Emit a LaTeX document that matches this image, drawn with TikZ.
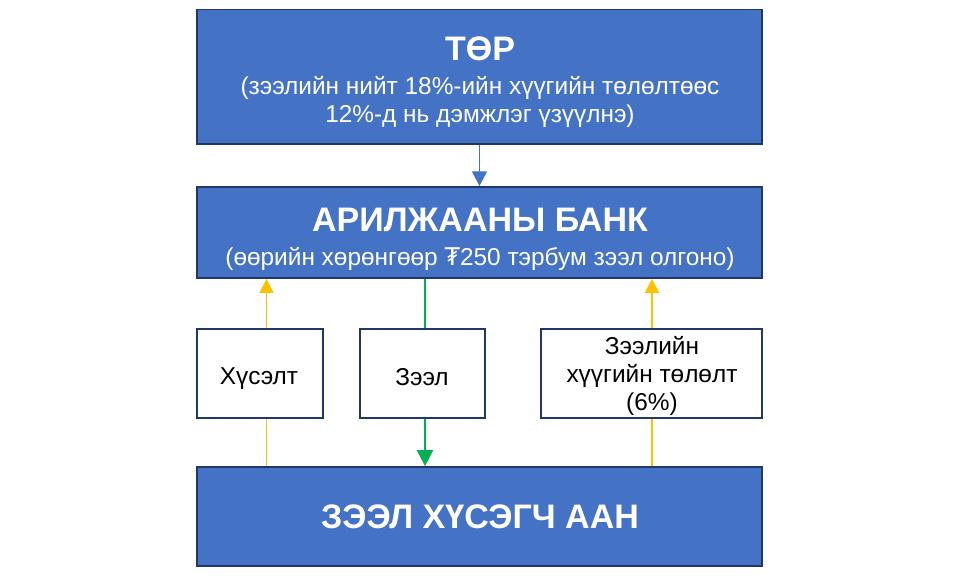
\documentclass[tikz,border=0pt]{standalone}
\usepackage{fontspec}
\setmainfont{Liberation Sans}
\newfontfamily\dejavu{DejaVu Sans}
\usetikzlibrary{arrows.meta}
\definecolor{boxblue}{HTML}{4472C4}
\definecolor{navy}{HTML}{203864}
\definecolor{ylw}{HTML}{FFC000}
\definecolor{grn}{HTML}{00B050}
\begin{document}
\begin{tikzpicture}[x=0.75pt,y=-0.75pt,
  bigbox/.style={draw=navy,line width=1.3pt,fill=boxblue,inner sep=0pt,minimum width=423.75pt},
  smallbox/.style={draw=navy,line width=1.5pt,fill=white,inner sep=0pt},
  bigtext/.style={text=white,align=center,inner sep=0pt,font=\fontsize{18.3}{21}\selectfont},
  smalltext/.style={align=center,inner sep=0pt,font=\fontsize{18.3}{21.3}\selectfont},
  ttlfont/.style={font=\fontsize{25.5}{25.5}\selectfont\bfseries},
  bluearrow/.style={draw=boxblue,line width=1.4pt,-{Triangle[width=11pt,length=11pt]}},
  ylwline/.style={draw=ylw,line width=1.1pt},
  ylwarrow/.style={ylwline,-{Triangle[width=10.5pt,length=10.5pt]}},
  grnline/.style={draw=grn,line width=1.4pt},
  grnarrow/.style={grnline,-{Triangle[width=12pt,length=12pt]}}
]
\useasboundingbox (0,0) rectangle (960,576);
\fill[white] (0,0) rectangle (960,576);

\node[bigbox,minimum height=101pt] (tor) at (479.5,76.7) {};
\node[bigbox,minimum height=68.25pt] (bank) at (479.5,232.5) {};
\node[bigbox,minimum height=74.25pt] (aan) at (479.5,516.5) {};
\node[smallbox,minimum width=94.3pt,minimum height=66.75pt] (req) at (259.9,373) {};
\node[smallbox,minimum width=93.75pt,minimum height=66.75pt] (loan) at (422.5,373) {};
\node[smallbox,minimum width=165.75pt,minimum height=66.75pt] (pay) at (651.5,373) {};

\node[bigtext] (tortxt) at (480,82)
  {{\fontsize{25.5}{25.5}\selectfont\bfseries ТӨР}\\[4.5pt]
   (зээлийн нийт 18\%-ийн хүүгийн төлөлтөөс\\
   12\%-д нь дэмжлэг үзүүлнэ)};
\node[bigtext] (banktxt) at (480,239)
  {{\fontsize{25.5}{25.5}\selectfont\bfseries АРИЛЖААНЫ БАНК}\\[4.5pt]
   (өөрийн хөрөнгөөр {\dejavu ₮}250 тэрбум зээл олгоно)};
\node[bigtext,ttlfont] (aantxt) at (480,517) {ЗЭЭЛ ХҮСЭГЧ ААН};

\node[smalltext] (reqtxt) at (259,379) {Хүсэлт};
\node[smalltext] (loantxt) at (422,377) {Зээл};
\node[smalltext] (paytxt) at (652,376) {Зээлийн\\хүүгийн төлөлт\\(6\%)};

\coordinate (xl) at (266.5,0);
\coordinate (xm) at (425,0);
\coordinate (xr) at (652,0);

\draw[bluearrow] (tor.south) -- (bank.north);
\draw[ylwline] (xl |- aan.north) -- (xl |- req.south);
\draw[ylwarrow] (xl |- req.north) -- (xl |- bank.south);
\draw[grnline] (xm |- bank.south) -- (xm |- loan.north);
\draw[grnarrow] (xm |- loan.south) -- (xm |- aan.north);
\draw[ylwline] (xr |- aan.north) -- (xr |- pay.south);
\draw[ylwarrow] (xr |- pay.north) -- (xr |- bank.south);
\end{tikzpicture}
\end{document}
